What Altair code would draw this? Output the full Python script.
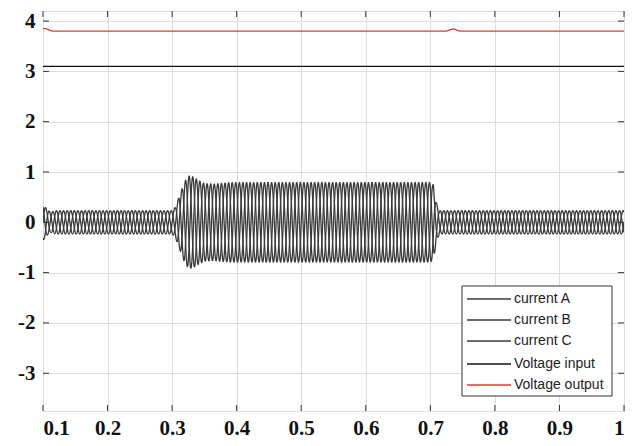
import altair as alt
import numpy as np
import pandas as pd

# ---------------- data ----------------
x_ticks = [0.1, 0.2, 0.3, 0.4, 0.5, 0.6, 0.7, 0.8, 0.9, 1.0]
y_ticks = [-3, -2, -1, 0, 1, 2, 3, 4]

series_names = ["current A", "current B", "current C", "Voltage input", "Voltage output"]
series_colors = ["#3a3a3a", "#3a3a3a", "#3a3a3a", "#111111", "#d93a32"]
series_widths = [1.3, 1.3, 1.3, 2.6, 2.3]

# envelope (peak amplitude) of the three-phase currents
env_t = [0.100, 0.106, 0.112, 0.120, 0.300, 0.305, 0.312, 0.320, 0.326, 0.333, 0.340, 0.350, 0.365, 0.390, 0.700, 0.705, 0.709, 0.714, 1.000]
env_a = [0.36, 0.26, 0.20, 0.23, 0.23, 0.30, 0.55, 0.82, 0.92, 0.90, 0.84, 0.77, 0.76, 0.79, 0.79, 0.74, 0.40, 0.23, 0.23]
freq_hz = 60
phase_deg = [0, -120, 120]

vin_t = [0.1, 1.0]
vin_v = [3.1, 3.1]

vout_t = [0.100, 0.105, 0.110, 0.115, 0.725, 0.731, 0.736, 0.741, 0.746, 1.000]
vout_v = [3.85, 3.85, 3.82, 3.80, 3.80, 3.83, 3.845, 3.82, 3.80, 3.80]

# ---------------- build table ----------------
t = np.linspace(0.1, 1.0, 5400)
amp = np.interp(t, env_t, env_a)
frames = []
for name, ph in zip(series_names[:3], phase_deg):
    frames.append(pd.DataFrame({"t": t, "v": amp * np.sin(2 * np.pi * freq_hz * t + np.deg2rad(ph)), "series": name}))
frames.append(pd.DataFrame({"t": vin_t, "v": vin_v, "series": series_names[3]}))
frames.append(pd.DataFrame({"t": vout_t, "v": vout_v, "series": series_names[4]}))
df = pd.concat(frames, ignore_index=True)

W, H = 581, 400
xdom = [0.1, 1.0]
ydom = [-3.75, 4.2]

label_font = "Liberation Serif"

xs = alt.Scale(domain=xdom, nice=False, zero=False)
ys = alt.Scale(domain=ydom, nice=False, zero=False)
color_scale = alt.Scale(domain=series_names, range=series_colors)

lines = alt.Chart(df).mark_line(clip=True).encode(
    x=alt.X("t:Q", scale=xs, axis=alt.Axis(
        values=x_ticks, title=None, grid=True, gridColor="#dddddd", ticks=False, domain=False,
        labelFont=label_font, labelFontWeight="bold", labelFontSize=21, labelColor="#111",
        labelPadding=6, labelExpr="datum.value == 1 ? '1' : format(datum.value, '.1f')")),
    y=alt.Y("v:Q", scale=ys, axis=alt.Axis(
        values=y_ticks, title=None, grid=True, gridColor="#dddddd", ticks=False, domain=False,
        labelFont=label_font, labelFontWeight="bold", labelFontSize=21, labelColor="#111",
        labelPadding=8, labelExpr="datum.value < 0 ? '-' + abs(datum.value) : '' + datum.value")),
    color=alt.Color("series:N", sort=series_names, scale=color_scale, legend=None),
    strokeWidth=alt.StrokeWidth("series:N", scale=alt.Scale(domain=series_names, range=series_widths), legend=None),
    detail="series:N",
)

xt = pd.DataFrame({"x": x_ticks})
yt = pd.DataFrame({"y": y_ticks})
tick_style = dict(color="#333", strokeWidth=1)
bx = alt.Chart(xt).mark_rule(**tick_style).encode(x=alt.X("x:Q", scale=xs, axis=None), y=alt.value(H), y2=alt.value(H - 6))
tx = alt.Chart(xt).mark_rule(**tick_style).encode(x=alt.X("x:Q", scale=xs, axis=None), y=alt.value(0), y2=alt.value(6))
ly = alt.Chart(yt).mark_rule(**tick_style).encode(y=alt.Y("y:Q", scale=ys, axis=None), x=alt.value(0), x2=alt.value(6))
ry = alt.Chart(yt).mark_rule(**tick_style).encode(y=alt.Y("y:Q", scale=ys, axis=None), x=alt.value(W - 6), x2=alt.value(W))

# ---------------- legend (drawn as a boxed key, lower right) ----------------
leg = pd.DataFrame({"series": series_names, "row": list(range(len(series_names)))})
row_px = [288, 309, 330, 353, 374]  # vertical slot of each legend row (layout)
leg["ly"] = row_px
box = alt.Chart(pd.DataFrame({"a": [0]})).mark_rect(fill="white", stroke="#333", strokeWidth=1).encode(
    x=alt.value(419), x2=alt.value(569), y=alt.value(275), y2=alt.value(385))
key_lines = alt.Chart(leg).mark_rule(strokeWidth=1.6).encode(
    y=alt.Y("ly:Q", scale=None, axis=None),
    x=alt.value(424), x2=alt.value(468),
    color=alt.Color("series:N", scale=color_scale, legend=None))
key_text = alt.Chart(leg).mark_text(align="left", baseline="middle", font="Liberation Sans",
                                    fontSize=14, color="#222").encode(
    y=alt.Y("ly:Q", scale=None, axis=None), x=alt.value(471), text="series:N")

chart = alt.layer(lines, bx, tx, ly, ry, box, key_lines, key_text).resolve_scale(
    y="independent", x="independent"
).properties(
    width=W, height=H,
    autosize=alt.AutoSizeParams(type="none"),
    padding={"left": 35, "top": 3, "right": 6, "bottom": 27},
).configure_view(stroke="#333", strokeWidth=1.2).configure(background="white")

chart.save("out.html", embed_options={"renderer": "svg", "actions": False})
